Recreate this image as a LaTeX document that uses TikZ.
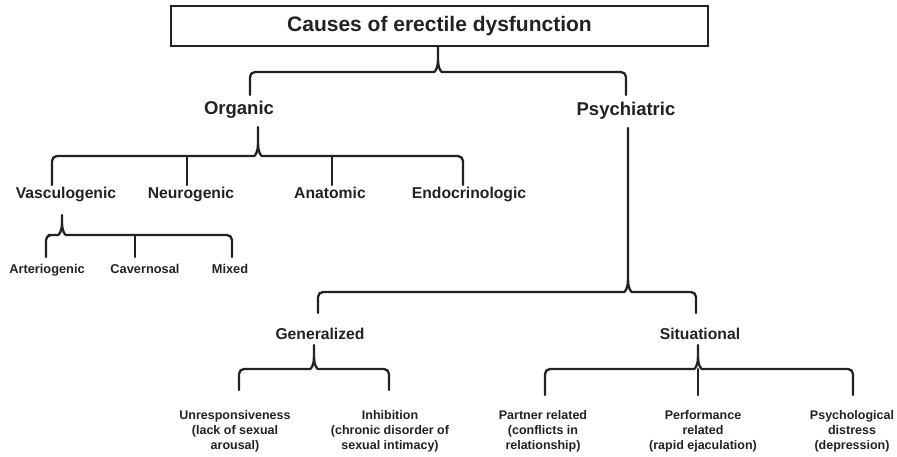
\documentclass[tikz,border=0pt]{standalone}
\usepackage{fontspec}
\setmainfont{Liberation Sans}
\definecolor{ink}{HTML}{222222}
\tikzset{
  br/.style={draw=ink, line width=2.3pt, line cap=round},
  lab/.style={inner sep=0pt, text=ink, font=\bfseries},
  top/.style={lab, font=\bfseries\fontsize{21}{25}\selectfont},
  lone/.style={lab, anchor=base, font=\bfseries\fontsize{18.5}{22}\selectfont},
  ltwo/.style={lab, anchor=base, font=\bfseries\fontsize{15.7}{19}\selectfont},
  lthree/.style={lab, anchor=base, font=\bfseries\fontsize{12.8}{15}\selectfont},
  leaf/.style={lab, align=center, font=\bfseries\fontsize{12.5}{15}\selectfont},
}
% #1 xL, #2 xM, #3 xR, #4 y of stem top, #5 y of bar, #6 y of ends
\newcommand\BraceDraw[6]{%
  \draw[br] (#1,#6) [rounded corners=5pt] -- (#1,#5) -- (#2-9,#5) [sharp corners]
     .. controls (#2-3,#5) and (#2,#5-4) .. (#2,#5-12) -- (#2,#4);
  \draw[br] (#3,#6) [rounded corners=5pt] -- (#3,#5) -- (#2+9,#5) [sharp corners]
     .. controls (#2+3,#5) and (#2,#5-4) .. (#2,#5-12);
}
\begin{document}
\begin{tikzpicture}[x=1pt,y=-1pt]
\useasboundingbox (0,0) rectangle (897,457);
% title
\draw[draw=ink, line width=2.7pt] (171,6) rectangle (708,46);
\node[top] (title) at (439.5,26) {Causes of erectile dysfunction};
% level 1
\node[lone] (org) at (239,115) {Organic};
\node[lone] (psy) at (626,116) {Psychiatric};
\BraceDraw{250}{438}{626}{46}{72}{95}
% level 2 organic
\node[ltwo] (vas) at (66,199) {Vasculogenic};
\node[ltwo] (neu) at (191,199) {Neurogenic};
\node[ltwo] (ana) at (330,199) {Anatomic};
\node[ltwo] (end) at (469,199) {Endocrinologic};
\BraceDraw{52}{258}{463}{127}{156}{185}
\draw[br] (187,156) -- (187,185);
\draw[br] (332,156) -- (332,185);
% level 3 vasculogenic
\node[lthree] (art) at (47,273) {Arteriogenic};
\node[lthree] (cav) at (145,273) {Cavernosal};
\node[lthree] (mix) at (230,273) {Mixed};
\BraceDraw{46}{62}{232}{215}{235}{257}
\draw[br] (135,235) -- (135,257);
% psychiatric
\node[ltwo] (gen) at (320,339) {Generalized};
\node[ltwo] (sit) at (700,339) {Situational};
\BraceDraw{318}{628}{696}{128}{292}{313}
% generalized
\node[leaf] (unr) at (235,431) {Unresponsiveness\\(lack of sexual\\arousal)};
\node[leaf] (inh) at (390,431) {Inhibition\\(chronic disorder of\\sexual intimacy)};
\BraceDraw{239}{314}{389}{345}{369}{390}
% situational
\node[leaf] (par) at (543,431) {Partner related\\(conflicts in\\relationship)};
\node[leaf] (per) at (703,431) {Performance\\related\\(rapid ejaculation)};
\node[leaf] (pdi) at (852,431) {Psychological\\distress\\(depression)};
\BraceDraw{545}{698}{853}{345}{369}{395}
\draw[br] (698,369) -- (698,395);
\end{tikzpicture}
\end{document}
